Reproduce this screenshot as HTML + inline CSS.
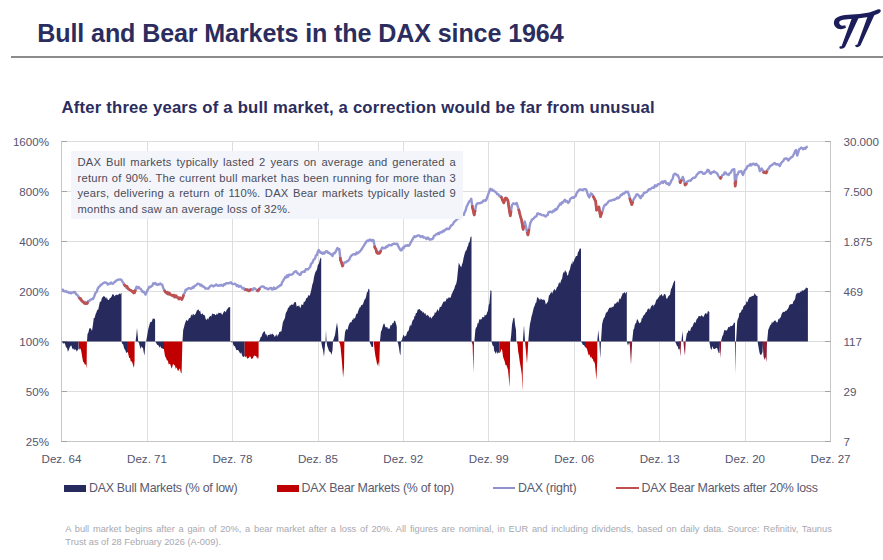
<!DOCTYPE html>
<html><head><meta charset="utf-8">
<style>
html,body{margin:0;padding:0;background:#fff;}
body{width:883px;height:560px;position:relative;overflow:hidden;font-family:"Liberation Sans",sans-serif;}
.title{position:absolute;left:37.3px;top:19.2px;font-size:25.1px;font-weight:bold;color:#2b2d5e;white-space:nowrap;letter-spacing:-0.12px;}
.rule{position:absolute;left:11px;top:56px;width:872px;height:1.7px;background:#8c8c8c;}
.sub{position:absolute;left:61.5px;top:97.5px;letter-spacing:0.2px;font-size:16.7px;font-weight:bold;color:#2b2d5e;white-space:nowrap;}
.box{position:absolute;left:71px;top:151px;width:392px;height:68px;background:rgba(243,245,250,0.97);}
.boxt{position:absolute;left:77.5px;width:378.5px;font-size:11.2px;letter-spacing:0.22px;line-height:15.4px;color:#4c4c58;text-align:justify;text-align-last:justify;white-space:nowrap;}
.l4{text-align-last:left;}
svg{position:absolute;left:0;top:0;}
.lg{position:absolute;top:481px;font-size:12.4px;color:#5a5a70;white-space:nowrap;letter-spacing:-0.27px;}
.foot{position:absolute;left:65.3px;top:523px;font-size:9.3px;line-height:13px;color:#a8a8b0;width:766.5px;text-align:justify;white-space:nowrap;}
</style></head><body>
<div class="title">Bull and Bear Markets in the DAX since 1964</div>
<div class="rule"></div>
<svg width="883" height="560" viewBox="0 0 883 560">
 <g fill="#1c1e5c">
  <path d="M846 27.8 C840 31.2 833 28 834 21.5 C835 16.5 842 15 852 14.6 C862 14.2 871 12.8 877.5 9.6 C880.5 8.4 881.8 10.8 880 12.4 C874 16.5 864 18 853 18.7 C845 19.2 839.5 19.6 839.2 22.4 C839 25 842 26.4 845.2 25.2 Z"/>
  <path d="M852 17.8 L859 17.1 L845.3 46.6 C843.6 49.2 839.6 49.6 839.4 47.4 C839.3 46.3 840.6 46.1 841.6 46.3 Z"/>
  <path d="M867.9 15.8 L874.6 14.5 L860.7 45 C859.1 47.6 855.4 47.8 855.2 45.8 C855.1 44.8 856.3 44.6 857.3 44.8 Z"/>
 </g>
</svg>
<div class="sub">After three years of a bull market, a correction would be far from unusual</div>
<svg width="883" height="560" viewBox="0 0 883 560">
 <g stroke="#dedede" stroke-width="1">
<line x1="62.0" y1="141.5" x2="830.5" y2="141.5"/>
<line x1="62.0" y1="191.5" x2="830.5" y2="191.5"/>
<line x1="62.0" y1="241.5" x2="830.5" y2="241.5"/>
<line x1="62.0" y1="291.5" x2="830.5" y2="291.5"/>
<line x1="62.0" y1="341.5" x2="830.5" y2="341.5"/>
<line x1="62.0" y1="391.5" x2="830.5" y2="391.5"/>
<line x1="147.5" y1="141.5" x2="147.5" y2="441.5"/>
<line x1="232.5" y1="141.5" x2="232.5" y2="441.5"/>
<line x1="318.5" y1="141.5" x2="318.5" y2="441.5"/>
<line x1="403.5" y1="141.5" x2="403.5" y2="441.5"/>
<line x1="488.5" y1="141.5" x2="488.5" y2="441.5"/>
<line x1="574.5" y1="141.5" x2="574.5" y2="441.5"/>
<line x1="659.5" y1="141.5" x2="659.5" y2="441.5"/>
<line x1="745.5" y1="141.5" x2="745.5" y2="441.5"/>
 </g>
 <g stroke="#c6c6c6" stroke-width="1">
 <line x1="61.5" y1="141" x2="61.5" y2="441.5"/>
 <line x1="830.5" y1="141" x2="830.5" y2="441.5"/>
 <line x1="61" y1="441.5" x2="831" y2="441.5"/>
 </g>
 <g stroke="#a4a4a4" stroke-width="1">
<line x1="61.5" y1="141.5" x2="67" y2="141.5"/>
<line x1="825" y1="141.5" x2="830.5" y2="141.5"/>
<line x1="61.5" y1="191.5" x2="67" y2="191.5"/>
<line x1="825" y1="191.5" x2="830.5" y2="191.5"/>
<line x1="61.5" y1="241.5" x2="67" y2="241.5"/>
<line x1="825" y1="241.5" x2="830.5" y2="241.5"/>
<line x1="61.5" y1="291.5" x2="67" y2="291.5"/>
<line x1="825" y1="291.5" x2="830.5" y2="291.5"/>
<line x1="61.5" y1="341.5" x2="67" y2="341.5"/>
<line x1="825" y1="341.5" x2="830.5" y2="341.5"/>
<line x1="61.5" y1="391.5" x2="67" y2="391.5"/>
<line x1="825" y1="391.5" x2="830.5" y2="391.5"/>
<line x1="61.5" y1="441.5" x2="67" y2="441.5"/>
<line x1="825" y1="441.5" x2="830.5" y2="441.5"/>
 </g>
 <path d="M62.0 341.5 L62.0 341.5 L63.0 343.8 L63.7 343.3 L64.5 342.9 L65.2 344.5 L66.1 347.5 L67.0 347.7 L67.9 351.8 L68.8 350.0 L69.6 347.4 L70.5 346.0 L71.4 345.4 L72.3 348.4 L73.2 349.6 L73.9 348.2 L74.6 350.2 L75.4 349.2 L76.1 349.7 L76.8 351.8 L77.7 350.1 L78.6 349.0 L78.6 341.5 Z M87.0 341.5 L87.0 341.0 L87.5 333.9 L88.4 332.6 L89.3 328.6 L90.2 327.9 L91.1 329.1 L92.0 331.0 L92.9 325.0 L93.8 317.9 L94.6 317.9 L95.5 314.6 L96.4 312.5 L97.3 309.7 L98.2 309.7 L99.1 305.4 L100.0 301.2 L100.9 302.0 L101.8 298.2 L102.5 297.2 L103.2 296.4 L104.0 296.1 L104.7 296.7 L105.4 297.3 L106.1 299.1 L106.8 297.1 L107.5 299.2 L108.2 300.0 L108.9 300.0 L109.8 298.3 L110.7 297.8 L111.6 296.4 L112.3 294.5 L113.0 294.3 L113.8 294.7 L114.5 296.4 L115.2 295.5 L115.9 295.0 L116.6 294.4 L117.3 295.3 L118.0 294.6 L118.8 294.6 L119.5 293.2 L120.2 294.6 L121.0 292.9 L121.5 293.0 L121.5 341.5 Z M121.5 341.5 L121.5 341.5 L122.3 344.1 L123.2 344.6 L124.0 348.0 L124.8 349.4 L125.5 350.4 L126.2 352.9 L127.0 352.5 L127.0 341.5 Z M135.6 341.5 L135.6 341.0 L136.3 335.4 L137.0 328.0 L138.2 341.0 L138.2 341.5 Z M138.0 341.5 L138.0 341.5 L139.0 343.2 L140.0 347.0 L140.8 349.2 L141.5 346.0 L142.2 347.4 L143.0 348.0 L143.8 352.8 L144.5 355.5 L145.5 341.5 L145.5 341.5 Z M146.2 341.5 L146.2 341.0 L147.0 336.6 L148.3 329.0 L149.5 324.5 L150.3 322.0 L151.1 322.3 L151.9 321.3 L152.9 318.3 L154.0 318.9 L154.6 318.5 L155.1 320.0 L155.1 341.5 Z M155.3 341.5 L155.3 341.5 L156.2 343.0 L157.1 344.7 L158.0 345.0 L158.8 345.9 L159.6 347.7 L160.4 346.1 L161.2 348.2 L162.0 348.0 L163.0 348.9 L164.0 349.0 L164.0 341.5 Z M182.5 341.5 L182.5 341.0 L183.2 330.0 L184.0 327.3 L184.8 324.0 L185.6 321.7 L186.4 319.7 L187.2 320.7 L188.0 320.7 L188.8 318.4 L189.6 318.1 L190.4 317.8 L191.2 314.3 L192.1 315.9 L192.9 314.1 L193.7 314.3 L194.5 315.3 L195.3 314.2 L196.1 312.5 L196.9 310.6 L197.7 309.9 L198.5 309.3 L199.3 311.6 L200.1 310.6 L200.9 314.1 L201.7 314.2 L202.5 313.3 L203.3 314.9 L204.1 314.7 L204.9 315.8 L205.7 318.9 L206.5 320.2 L207.3 318.0 L208.1 319.7 L208.9 317.4 L209.7 316.6 L210.5 315.7 L211.3 316.8 L212.1 313.2 L212.9 314.3 L213.7 314.1 L214.5 314.1 L215.3 315.2 L216.2 314.8 L217.0 313.3 L217.8 314.8 L218.6 312.4 L219.4 313.0 L220.2 313.3 L221.0 312.5 L221.8 314.4 L222.6 314.5 L223.4 312.5 L224.2 311.1 L225.0 311.2 L225.8 312.5 L226.6 309.8 L227.4 309.3 L228.2 307.4 L229.0 307.6 L229.8 306.9 L230.2 307.0 L230.2 341.5 Z M230.4 341.5 L230.4 341.5 L231.1 342.4 L231.8 342.1 L232.6 342.0 L233.3 344.7 L234.0 346.0 L234.8 346.3 L235.6 347.9 L236.4 350.2 L237.2 350.0 L238.0 350.0 L238.8 351.1 L239.6 352.5 L240.4 353.7 L241.2 352.2 L242.0 355.0 L242.9 356.9 L243.8 356.8 L244.7 356.0 L244.7 341.5 Z M258.6 341.5 L258.6 341.0 L259.6 340.5 L260.7 337.0 L261.5 336.8 L262.4 333.8 L263.2 332.5 L264.0 331.5 L264.8 331.3 L265.6 334.8 L266.4 333.9 L267.2 337.0 L267.9 334.9 L268.6 335.1 L269.4 334.5 L270.1 334.9 L270.8 333.4 L271.5 334.8 L272.3 333.4 L273.1 334.5 L273.9 334.9 L274.7 337.0 L275.5 335.9 L276.3 334.0 L277.1 336.8 L277.9 334.8 L278.6 334.6 L279.3 332.0 L280.0 331.8 L280.7 331.5 L281.4 331.4 L282.1 327.3 L282.8 322.8 L283.5 320.7 L284.2 319.6 L285.0 317.7 L285.7 313.2 L286.5 311.7 L287.3 310.4 L288.1 307.5 L288.9 307.8 L289.7 305.4 L290.5 305.6 L291.3 304.5 L292.1 304.6 L293.1 304.9 L294.2 302.5 L295.0 301.9 L295.9 302.2 L296.7 306.7 L297.5 305.7 L298.3 306.3 L299.1 305.3 L299.9 307.4 L300.7 307.8 L301.5 304.3 L302.3 304.7 L303.1 304.9 L303.9 301.4 L304.7 302.1 L305.5 300.6 L306.3 298.0 L307.1 298.2 L307.9 296.6 L308.7 294.7 L309.5 296.1 L310.3 293.9 L311.4 289.2 L312.4 284.3 L313.2 282.2 L314.0 277.2 L314.9 273.5 L315.7 271.4 L316.4 270.5 L317.1 269.1 L317.8 265.0 L318.9 263.7 L319.9 259.6 L320.8 257.5 L321.2 258.0 L321.2 341.5 Z M321.2 341.5 L321.2 341.5 L322.1 346.7 L323.0 350.0 L324.0 357.0 L325.0 345.0 L325.5 341.5 L325.5 341.5 Z M325.5 341.5 L325.5 341.0 L326.0 330.0 L326.5 341.0 L326.5 341.5 Z M326.5 341.5 L326.5 341.5 L327.2 345.8 L328.0 348.0 L329.0 351.0 L330.0 352.0 L330.8 352.4 L331.5 355.0 L332.5 350.0 L333.0 341.5 L333.0 341.5 Z M333.0 341.5 L333.0 341.0 L334.0 338.1 L335.0 335.0 L336.0 328.2 L337.0 322.5 L338.0 330.0 L338.5 341.0 L338.5 341.5 Z M344.2 341.5 L344.2 341.0 L345.0 332.5 L345.8 329.8 L346.7 328.9 L347.5 330.0 L348.3 326.6 L349.2 324.0 L350.0 322.5 L350.8 322.3 L351.5 322.3 L352.2 319.3 L353.0 320.2 L353.8 317.5 L354.5 318.7 L355.2 317.8 L356.0 314.7 L356.8 313.4 L357.5 313.8 L358.2 310.9 L359.0 309.0 L359.8 307.3 L360.5 307.2 L361.2 305.0 L362.2 305.3 L363.1 303.7 L364.0 301.0 L364.8 299.3 L365.5 298.4 L366.2 296.2 L367.0 292.0 L367.7 292.3 L368.5 288.6 L369.2 289.4 L369.5 290.0 L369.5 341.5 Z M369.5 341.5 L369.5 341.5 L370.2 343.6 L371.0 345.0 L371.7 347.1 L372.5 347.1 L373.2 346.4 L373.2 341.5 Z M380.0 341.5 L380.0 341.0 L380.9 331.8 L381.8 330.1 L382.7 326.4 L383.6 323.8 L384.5 323.7 L385.4 327.3 L386.3 327.3 L387.2 326.9 L388.0 329.1 L388.9 328.2 L389.6 329.0 L390.3 325.7 L391.1 324.6 L391.8 325.7 L392.5 322.9 L393.4 323.2 L394.3 320.4 L395.2 321.1 L396.4 325.0 L396.8 327.0 L396.8 341.5 Z M396.8 341.5 L396.8 341.5 L397.5 341.8 L398.3 344.3 L399.0 348.0 L399.8 353.4 L400.5 355.5 L401.0 341.5 L401.0 341.5 Z M401.0 341.5 L401.0 341.0 L402.0 339.7 L403.0 336.0 L403.7 334.4 L404.5 336.9 L405.2 335.4 L405.9 336.2 L406.6 333.9 L407.4 331.6 L408.1 331.3 L408.8 330.0 L409.5 326.7 L410.2 324.5 L411.0 326.5 L411.7 323.4 L412.4 321.0 L413.1 319.5 L413.8 319.5 L414.5 315.9 L415.2 316.1 L415.9 313.0 L416.8 313.1 L417.7 309.5 L418.6 309.5 L419.5 309.1 L420.4 309.9 L421.3 311.3 L422.0 310.8 L422.7 312.7 L423.4 312.0 L424.1 313.1 L424.8 314.0 L425.5 312.9 L426.2 316.3 L427.0 314.4 L427.7 315.2 L428.4 315.7 L429.1 316.4 L429.8 318.0 L430.6 316.5 L431.3 318.8 L432.0 317.5 L432.7 316.6 L433.4 315.8 L434.2 314.9 L434.9 312.0 L435.6 313.0 L436.3 312.1 L437.0 310.3 L437.7 308.9 L438.4 311.4 L439.1 309.5 L439.8 306.9 L440.5 306.9 L441.3 306.6 L442.0 304.7 L442.7 303.2 L443.4 301.8 L444.1 301.8 L444.9 301.3 L445.6 301.5 L446.3 299.6 L447.0 297.7 L447.7 299.2 L448.5 297.6 L449.2 297.3 L449.9 297.9 L450.8 297.2 L451.6 294.3 L452.5 292.5 L453.4 290.4 L454.3 288.8 L455.2 285.4 L456.1 284.3 L457.0 280.0 L457.9 271.0 L458.8 262.5 L459.6 264.6 L460.4 265.9 L461.2 267.5 L462.0 264.5 L462.8 262.3 L463.5 258.3 L464.2 255.6 L465.0 252.5 L465.8 250.4 L466.5 250.3 L467.2 247.3 L468.0 246.0 L468.8 242.5 L469.6 242.2 L470.4 237.4 L471.2 236.2 L471.5 237.0 L471.5 341.5 Z M471.5 341.5 L471.5 341.5 L472.6 345.0 L473.0 341.5 L473.0 341.5 Z M474.4 341.5 L474.4 341.0 L475.4 329.4 L476.1 327.5 L476.9 326.8 L477.6 322.9 L478.4 323.5 L479.2 319.8 L480.0 319.0 L480.8 319.7 L481.6 318.9 L482.4 316.9 L483.2 317.1 L484.0 317.6 L484.8 314.5 L485.6 315.6 L486.4 314.7 L487.2 312.2 L487.9 310.9 L488.7 305.1 L489.4 303.6 L490.5 290.0 L491.1 290.7 L491.5 291.0 L491.5 341.5 Z M491.5 341.5 L491.5 341.5 L492.2 344.0 L492.9 346.0 L493.6 346.1 L494.3 351.3 L495.0 351.9 L495.7 354.0 L496.4 351.1 L497.1 354.3 L497.9 352.2 L498.6 352.8 L499.3 353.0 L499.3 341.5 Z M510.5 341.5 L510.5 341.0 L511.2 335.0 L512.0 325.0 L513.2 318.6 L514.3 317.5 L515.1 325.1 L516.0 330.0 L516.3 341.0 L516.3 341.5 Z M522.9 341.5 L522.9 341.0 L524.0 325.0 L525.0 341.0 L525.0 341.5 Z M528.3 341.5 L528.3 341.0 L529.3 329.4 L530.0 323.7 L530.8 320.5 L531.5 316.5 L532.3 313.9 L533.1 310.5 L533.9 307.3 L534.7 305.8 L535.5 302.9 L536.3 302.4 L537.1 297.4 L537.9 297.2 L538.6 298.5 L539.3 299.1 L540.0 300.4 L540.8 298.2 L541.6 299.2 L542.5 300.1 L543.3 299.3 L544.1 300.4 L544.9 299.7 L545.7 304.5 L546.5 303.6 L547.3 302.6 L548.1 301.2 L548.9 295.6 L549.7 295.0 L550.5 293.3 L551.3 291.6 L552.1 293.7 L552.9 291.8 L553.6 290.2 L554.3 289.0 L555.0 289.6 L555.7 290.9 L556.4 288.6 L557.2 286.4 L557.9 286.7 L558.6 283.4 L559.3 282.0 L560.0 284.1 L560.7 281.4 L561.4 279.8 L562.1 278.4 L562.9 274.1 L563.6 272.0 L564.3 272.7 L565.0 270.0 L565.8 271.6 L566.5 272.1 L567.3 275.7 L568.1 275.0 L569.0 271.2 L569.9 269.4 L570.7 265.7 L571.4 262.9 L572.1 264.8 L572.9 260.4 L573.6 262.4 L574.3 259.6 L575.0 258.6 L575.7 256.5 L576.5 255.9 L577.2 256.0 L578.0 251.9 L578.7 251.4 L579.7 248.5 L580.7 248.6 L581.0 249.0 L581.0 341.5 Z M581.0 341.5 L581.0 341.5 L582.0 343.1 L583.0 345.0 L584.0 345.0 L585.0 347.0 L585.0 341.5 Z M597.3 341.5 L597.3 341.0 L598.3 330.0 L599.3 341.0 L599.3 341.5 Z M599.3 341.5 L599.3 341.5 L600.3 358.6 L601.0 341.5 L601.0 341.5 Z M601.0 341.5 L601.0 341.0 L602.1 324.3 L603.0 320.3 L603.9 318.1 L604.8 317.0 L605.7 313.5 L606.6 312.3 L607.5 311.8 L608.4 309.5 L609.3 308.0 L610.2 307.3 L611.1 308.3 L612.0 306.5 L612.9 307.3 L613.8 306.1 L614.6 303.6 L615.5 303.8 L616.4 302.9 L617.3 301.3 L618.2 302.9 L618.9 300.5 L619.6 298.1 L620.4 299.5 L621.1 297.3 L621.8 295.7 L622.7 293.3 L623.6 293.2 L624.5 292.1 L625.4 293.8 L626.3 292.0 L626.8 292.0 L626.8 341.5 Z M626.8 341.5 L626.8 341.5 L628.0 345.4 L628.8 343.1 L629.5 344.0 L630.0 341.5 L630.0 341.5 Z M632.2 341.5 L632.2 341.0 L633.4 329.6 L634.1 328.8 L634.8 325.1 L635.6 323.2 L636.3 322.5 L637.0 319.0 L637.9 320.0 L638.7 322.0 L639.6 323.4 L640.3 322.6 L641.0 322.1 L641.8 318.0 L642.5 318.3 L643.2 315.4 L643.9 315.5 L644.6 314.5 L645.4 312.9 L646.1 311.9 L646.8 311.8 L647.5 309.3 L648.2 308.9 L649.0 307.9 L649.7 309.9 L650.4 308.2 L651.1 306.5 L651.8 305.4 L652.5 304.4 L653.2 306.7 L653.9 304.6 L654.6 305.0 L655.3 303.2 L656.1 300.5 L656.8 299.3 L657.5 299.3 L658.2 297.6 L658.9 297.3 L659.7 295.2 L660.4 295.5 L661.1 294.8 L661.8 293.7 L662.5 296.3 L663.2 296.2 L663.9 294.3 L664.6 294.0 L665.5 294.4 L666.4 298.8 L667.3 298.4 L668.2 296.4 L669.1 295.4 L670.0 294.8 L670.9 289.5 L671.8 287.8 L672.7 285.0 L673.6 282.6 L674.5 280.5 L675.1 281.0 L675.1 341.5 Z M675.1 341.5 L675.1 341.5 L676.0 343.5 L677.0 346.0 L677.8 346.6 L678.5 349.5 L679.8 349.0 L680.5 341.5 L680.5 341.5 Z M681.5 341.5 L681.5 341.0 L682.5 331.0 L683.2 341.0 L683.2 341.5 Z M685.6 341.5 L685.6 341.0 L686.9 333.3 L687.7 332.8 L688.5 330.3 L689.3 330.8 L690.1 331.2 L691.1 327.4 L692.1 326.9 L692.9 325.5 L693.8 323.1 L694.6 322.1 L695.4 323.0 L696.2 320.5 L697.0 318.5 L697.8 318.2 L698.6 316.1 L699.4 316.0 L700.2 316.6 L701.0 316.0 L701.8 315.1 L702.5 316.3 L703.2 317.3 L703.9 316.1 L704.6 314.6 L705.4 313.3 L706.1 312.9 L707.0 314.5 L708.0 310.8 L708.9 311.8 L709.3 312.0 L709.3 341.5 Z M709.3 341.5 L709.3 341.5 L710.5 348.0 L711.5 350.0 L712.5 346.0 L713.2 348.4 L714.0 349.0 L715.0 349.1 L716.0 348.0 L717.0 347.7 L718.0 351.0 L718.8 353.3 L719.5 353.0 L720.0 341.5 L720.0 341.5 Z M721.1 341.5 L721.1 341.0 L722.2 336.5 L723.2 334.8 L724.3 330.0 L725.1 330.3 L726.0 330.4 L726.8 330.5 L727.6 329.0 L728.4 326.8 L729.2 327.5 L730.0 326.6 L730.8 325.8 L731.6 326.3 L732.4 325.4 L733.2 324.7 L734.0 322.6 L735.0 323.0 L735.0 341.5 Z M736.1 341.5 L736.1 341.0 L737.2 321.5 L737.9 319.0 L738.7 317.3 L739.4 312.9 L740.2 312.8 L741.0 312.1 L741.8 309.4 L742.6 309.7 L743.4 306.5 L744.2 305.5 L745.0 305.1 L745.8 304.3 L746.6 301.1 L747.4 302.4 L748.2 299.7 L749.0 297.9 L750.0 296.8 L750.7 297.0 L751.5 296.6 L752.2 295.8 L753.0 296.2 L753.9 295.2 L754.7 293.0 L755.5 294.7 L756.4 295.8 L757.5 296.0 L757.5 341.5 Z M757.6 341.5 L757.6 341.5 L759.0 350.0 L759.8 353.7 L760.5 355.0 L761.5 354.5 L762.5 352.0 L763.0 341.5 L763.0 341.5 Z M767.2 341.5 L767.2 341.0 L768.2 330.0 L768.9 328.2 L769.7 326.6 L770.4 324.7 L771.2 324.5 L772.0 321.4 L772.8 323.2 L773.6 321.5 L774.4 320.8 L775.2 320.3 L776.0 321.4 L776.8 322.6 L777.6 322.2 L778.4 318.7 L779.2 319.5 L780.0 317.2 L780.7 317.7 L781.5 314.3 L782.2 312.9 L783.0 311.9 L783.8 311.8 L784.6 312.1 L785.4 310.8 L786.2 311.1 L787.0 309.7 L787.8 309.0 L788.6 307.6 L789.4 305.1 L790.2 304.5 L791.0 304.1 L791.8 304.3 L792.6 303.9 L793.5 300.9 L794.3 300.6 L795.1 299.0 L795.8 295.2 L796.5 293.6 L797.2 293.6 L798.0 292.2 L798.8 293.2 L799.6 292.8 L800.4 291.5 L801.2 291.9 L802.0 290.1 L802.8 290.7 L803.6 290.4 L804.4 289.7 L805.2 289.2 L806.1 287.2 L806.9 288.2 L807.9 288.0 L807.9 341.5 Z" fill="#272a5c"/>
 <path d="M78.6 341.5 L78.6 341.5 L79.0 348.0 L79.7 349.7 L80.4 348.2 L81.3 351.4 L82.2 357.1 L83.1 361.7 L84.0 362.5 L85.0 365.1 L85.9 364.3 L86.6 368.8 L86.9 341.5 L86.9 341.5 Z M127.0 341.5 L127.0 352.5 L127.8 351.9 L128.5 355.1 L129.2 357.9 L130.0 358.0 L130.8 361.6 L131.5 361.3 L132.2 362.3 L133.0 365.0 L134.0 368.0 L134.6 360.0 L134.6 341.5 Z M163.9 341.5 L163.9 341.5 L164.0 350.0 L165.0 356.0 L166.0 358.0 L167.0 360.6 L167.8 360.5 L168.7 364.5 L169.5 363.8 L170.3 364.2 L171.1 367.3 L171.9 368.6 L172.7 364.9 L173.5 364.0 L174.2 364.9 L175.0 365.7 L175.8 369.0 L176.7 367.2 L177.5 370.2 L178.3 370.9 L179.1 369.2 L179.9 368.6 L180.8 372.6 L181.6 373.6 L182.4 341.5 L182.4 341.5 Z M244.7 341.5 L244.7 356.0 L245.5 357.3 L246.3 355.9 L247.2 359.1 L248.0 358.0 L248.8 358.1 L249.6 356.5 L250.4 356.6 L251.2 358.8 L252.0 359.0 L252.8 358.1 L253.5 356.7 L254.2 355.3 L255.0 356.0 L255.7 356.0 L256.4 356.5 L257.2 359.2 L257.9 356.4 L258.6 359.0 L258.6 341.5 Z M338.8 341.5 L338.8 341.5 L340.0 344.0 L340.6 347.5 L341.9 361.0 L343.1 377.5 L344.0 367.5 L344.4 341.5 L344.4 341.5 Z M373.8 341.5 L373.8 341.5 L374.5 349.6 L375.4 356.0 L376.4 360.4 L377.3 365.7 L378.3 362.0 L379.1 367.5 L380.0 341.5 L380.0 341.5 Z M472.5 341.5 L472.5 341.5 L473.5 373.0 L474.0 341.5 L474.0 341.5 Z M499.3 341.5 L499.3 353.0 L500.4 352.2 L501.4 348.7 L502.2 350.4 L503.0 356.8 L503.9 359.2 L504.7 361.5 L505.5 365.2 L506.4 364.9 L507.2 367.4 L508.0 370.0 L508.8 378.2 L509.6 387.3 L510.0 360.0 L510.0 341.5 Z M516.5 341.5 L516.5 341.5 L517.5 344.0 L518.2 351.8 L519.0 356.0 L519.7 361.5 L520.8 367.4 L521.8 374.4 L522.5 391.6 L522.9 360.0 L522.9 341.5 Z M525.0 341.5 L525.0 341.5 L526.0 352.1 L527.0 363.7 L528.3 341.5 L528.3 341.5 Z M585.0 341.5 L585.0 347.0 L585.8 347.6 L586.5 348.1 L587.2 349.8 L588.0 352.9 L588.8 355.4 L589.6 354.3 L590.4 358.1 L591.2 356.5 L592.0 358.6 L592.8 359.1 L593.5 361.5 L594.2 361.6 L595.0 364.3 L596.4 380.0 L597.3 360.0 L597.3 341.5 Z" fill="#c00000"/>
 <path d="M629.5 341.5 L629.5 341.5 L630.0 348.0 L631.0 364.9 L632.2 341.5 L632.2 341.5 Z M678.9 341.5 L678.9 341.5 L679.8 350.0 L680.4 356.7 L681.1 341.5 L681.1 341.5 Z M683.4 341.5 L683.4 341.5 L684.2 350.0 L685.0 355.8 L685.7 341.5 L685.7 341.5 Z M719.5 341.5 L719.5 341.5 L720.2 352.0 L720.7 358.5 L721.1 341.5 L721.1 341.5 Z M734.9 341.5 L734.9 341.5 L735.4 374.0 L735.9 341.5 L735.9 341.5 Z M762.5 341.5 L762.5 341.5 L763.5 356.0 L764.5 360.0 L765.5 357.0 L766.5 362.0 L767.0 341.5 L767.0 341.5 Z" fill="#8c1a34"/>
 <path d="M62.0 289.8 L63.0 289.8 L64.0 291.4 L65.0 291.5 L66.0 291.0 L67.0 292.1 L68.0 292.0 L69.0 293.0 L70.0 292.5 L71.0 293.3 L72.0 292.4 L73.0 292.6 L74.0 292.0 L75.0 291.9 L76.0 294.2 L77.0 294.6 L78.2 296.3 L79.5 298.2 L80.7 300.0 L81.8 300.9 L83.0 301.8 L84.2 301.9 L85.4 302.0 L86.6 303.6 L87.5 303.6 L88.4 301.0 L89.3 300.8 L90.2 300.0 L91.1 299.4 L92.0 299.0 L92.9 299.1 L94.2 296.5 L95.5 292.9 L96.7 291.8 L97.9 288.2 L99.1 286.6 L100.0 286.2 L100.9 284.7 L101.8 284.6 L102.7 283.5 L103.6 283.0 L104.7 282.4 L105.7 282.6 L106.8 282.9 L107.8 284.6 L108.9 283.9 L110.0 283.5 L111.1 282.6 L112.1 283.7 L113.2 283.6 L114.3 282.1 L115.3 281.6 L116.4 280.4 L117.4 280.1 L118.4 279.5 L119.5 279.6 L120.5 279.5 L121.4 279.8 L122.3 281.4 L123.2 282.7 L124.1 284.6 L125.0 285.7 L126.0 287.4 L127.0 288.0 L128.0 288.1 L129.0 289.0 L130.0 290.0 L130.9 290.6 L131.8 290.8 L132.8 291.2 L133.7 291.1 L134.6 292.6 L135.6 289.2 L136.6 286.7 L137.6 288.2 L138.6 286.9 L139.5 288.2 L140.5 288.7 L141.5 290.2 L142.5 291.9 L143.5 291.6 L144.5 292.9 L145.5 294.6 L146.5 292.1 L147.4 290.4 L148.4 288.6 L149.4 286.7 L150.4 287.1 L151.4 286.3 L152.3 285.8 L153.3 283.3 L154.3 283.8 L155.3 282.9 L156.3 284.5 L157.3 285.0 L158.2 284.2 L159.2 284.6 L160.2 283.4 L161.2 284.3 L162.2 284.7 L163.2 287.9 L164.1 290.0 L165.1 291.6 L166.1 292.9 L167.1 293.8 L168.1 292.7 L169.0 293.0 L170.0 293.6 L171.0 295.0 L172.0 295.5 L173.0 296.2 L174.0 297.1 L175.0 296.9 L176.0 297.0 L177.0 297.0 L178.0 298.1 L178.9 297.9 L179.9 298.6 L180.8 298.0 L181.8 299.5 L182.8 297.6 L183.8 294.0 L184.7 293.0 L185.7 289.6 L186.7 289.7 L187.7 288.7 L188.7 288.1 L189.6 288.1 L190.6 288.7 L191.6 288.6 L192.6 287.1 L193.6 287.7 L194.6 285.7 L195.6 285.7 L196.6 284.8 L197.6 283.6 L198.6 283.9 L199.6 284.2 L200.5 285.6 L201.5 284.8 L202.5 286.5 L203.5 286.5 L204.5 287.2 L205.4 288.7 L206.4 288.4 L207.4 288.5 L208.4 288.7 L209.4 287.2 L210.3 286.1 L211.3 285.5 L212.3 285.5 L213.3 286.5 L214.3 286.0 L215.3 285.1 L216.2 284.4 L217.2 285.5 L218.2 285.9 L219.2 285.3 L220.2 285.5 L221.2 284.8 L222.2 285.5 L223.1 285.9 L224.1 284.2 L225.1 284.6 L226.1 283.2 L227.1 283.4 L228.0 283.2 L229.0 283.4 L230.0 282.6 L231.0 282.3 L232.0 283.9 L232.9 284.1 L233.9 283.9 L234.9 283.6 L235.9 284.6 L236.9 286.1 L237.9 285.2 L238.9 286.8 L239.8 285.9 L240.8 286.4 L241.8 287.5 L242.8 288.6 L243.8 288.0 L244.7 290.0 L245.7 289.5 L246.7 289.7 L247.7 289.3 L248.7 289.6 L249.7 290.5 L250.7 289.8 L251.6 289.9 L252.6 290.0 L253.6 288.5 L254.6 288.3 L255.6 289.4 L256.5 289.6 L257.5 290.8 L258.6 291.0 L259.7 288.3 L260.7 287.2 L261.8 286.4 L262.9 286.5 L263.8 286.6 L264.7 288.0 L265.6 288.2 L266.6 288.2 L267.5 289.1 L268.4 289.2 L269.3 288.6 L270.2 288.2 L271.2 287.9 L272.1 289.6 L273.0 289.1 L273.9 287.6 L274.9 289.0 L275.8 288.6 L276.9 287.7 L277.9 287.0 L279.0 286.3 L280.0 285.3 L281.1 285.4 L282.2 282.2 L283.2 280.6 L284.3 278.6 L285.4 276.8 L286.3 277.5 L287.2 275.3 L288.1 276.8 L289.0 274.8 L289.9 274.7 L290.8 274.7 L291.9 274.6 L293.0 273.8 L294.0 272.2 L295.1 271.5 L296.2 271.3 L297.2 273.0 L298.3 273.6 L299.4 274.7 L300.5 274.8 L301.5 272.4 L302.6 272.0 L303.7 271.5 L304.8 271.7 L305.8 269.1 L306.9 269.3 L307.9 269.5 L309.0 268.2 L310.1 267.0 L311.2 263.7 L312.3 262.9 L313.6 259.7 L315.0 258.6 L315.9 255.5 L316.9 255.2 L317.8 251.6 L318.8 250.0 L319.7 251.5 L320.6 252.8 L321.6 252.5 L322.5 253.8 L323.4 252.6 L324.4 253.5 L325.3 252.1 L326.2 251.2 L327.2 251.4 L328.1 253.0 L329.1 252.7 L330.0 253.8 L331.2 254.4 L332.5 256.0 L333.5 253.3 L334.5 253.4 L335.5 252.1 L336.5 249.9 L337.5 248.0 L338.4 249.5 L339.3 249.0 L340.5 260.0 L341.5 262.0 L342.5 266.0 L344.0 263.0 L345.1 262.1 L346.2 262.3 L347.2 261.0 L348.3 260.8 L349.3 259.6 L350.3 257.1 L351.4 255.6 L352.4 254.9 L353.4 254.3 L354.5 254.1 L355.5 254.6 L356.5 252.5 L357.6 253.5 L358.6 252.4 L359.6 251.7 L360.6 250.6 L361.6 249.3 L362.6 247.7 L363.6 246.2 L364.6 244.4 L365.5 243.0 L366.4 241.6 L367.4 240.5 L368.4 241.1 L369.5 239.6 L370.5 239.8 L371.5 241.1 L372.6 239.9 L373.6 240.5 L374.8 247.4 L375.8 248.9 L376.7 252.4 L377.7 251.6 L378.8 252.9 L379.8 253.0 L381.1 249.8 L382.3 247.4 L383.3 248.3 L384.3 248.0 L385.3 248.1 L386.3 246.4 L387.3 246.8 L388.3 245.4 L389.3 244.9 L390.3 245.3 L391.3 245.3 L392.3 244.3 L393.3 244.1 L394.3 243.5 L395.2 243.8 L396.2 244.1 L397.2 243.7 L398.1 245.8 L399.1 247.6 L400.1 249.6 L401.0 250.5 L401.9 249.8 L402.9 247.5 L403.8 248.0 L404.7 246.2 L405.7 245.5 L406.7 245.8 L407.7 245.1 L408.7 245.7 L409.7 244.9 L410.7 242.5 L411.7 240.9 L412.7 239.1 L413.7 237.2 L414.7 236.2 L415.7 236.9 L416.7 236.1 L417.7 235.5 L418.7 235.5 L419.7 235.6 L420.7 237.0 L421.7 236.3 L422.6 236.1 L423.6 237.7 L424.6 237.4 L425.7 238.1 L426.7 239.1 L427.8 237.5 L428.8 238.6 L429.8 239.7 L430.9 239.3 L431.9 239.2 L433.0 238.5 L434.0 235.8 L435.0 235.5 L436.1 234.3 L437.1 234.3 L438.1 233.0 L439.0 234.1 L440.0 232.5 L441.0 232.2 L442.0 232.4 L443.0 230.7 L444.0 231.3 L445.0 230.0 L446.0 229.4 L447.0 228.5 L448.0 229.1 L449.0 229.0 L450.0 227.5 L451.0 225.4 L452.0 225.2 L453.0 224.0 L454.0 221.9 L455.0 221.2 L456.0 220.3 L456.9 219.1 L457.9 218.5 L458.9 217.9 L459.9 218.0 L460.8 217.4 L461.8 215.7 L462.8 214.6 L463.8 215.0 L464.7 212.1 L465.6 210.4 L466.6 206.8 L467.5 205.0 L468.4 203.0 L469.4 201.2 L470.3 201.0 L471.2 198.8 L472.5 207.5 L474.2 215.0 L475.2 210.1 L476.2 205.0 L477.2 203.5 L478.2 203.1 L479.2 203.3 L480.2 203.1 L481.2 202.5 L482.2 202.3 L483.2 200.6 L484.2 200.3 L485.2 200.9 L486.2 200.0 L487.3 197.0 L488.4 193.9 L489.4 191.1 L490.5 188.8 L491.4 190.3 L492.3 189.5 L493.2 190.7 L494.1 190.8 L495.0 191.7 L496.1 192.3 L497.1 194.1 L498.2 194.1 L499.3 196.3 L500.3 195.9 L501.4 197.3 L502.6 199.4 L503.8 202.9 L505.4 198.1 L506.6 199.8 L507.9 200.5 L509.1 207.5 L510.3 215.8 L511.9 205.3 L513.1 203.4 L514.3 203.7 L515.5 204.2 L516.7 202.9 L517.9 206.8 L519.1 211.0 L520.3 216.1 L521.5 219.8 L523.1 229.4 L524.7 221.4 L525.8 225.7 L526.8 231.3 L527.9 235.0 L529.1 228.9 L530.3 223.0 L531.3 220.9 L532.3 219.1 L533.4 218.9 L534.4 217.4 L535.4 216.7 L536.4 216.3 L537.4 213.5 L538.4 213.4 L539.5 214.2 L540.5 214.2 L541.6 215.0 L542.6 215.4 L543.6 215.0 L544.6 215.7 L545.6 216.6 L546.6 215.4 L547.6 215.1 L548.6 212.1 L549.6 211.8 L550.6 211.6 L551.5 212.2 L552.5 212.3 L553.4 210.5 L554.4 211.0 L555.4 209.0 L556.4 209.7 L557.3 208.6 L558.3 206.4 L559.3 205.3 L560.2 203.4 L561.2 204.4 L562.1 202.3 L563.0 202.5 L564.0 200.9 L564.9 199.7 L566.0 201.5 L567.0 201.1 L568.1 202.9 L569.2 201.9 L570.2 199.1 L571.3 198.1 L572.5 197.4 L573.6 197.9 L574.8 196.6 L575.8 195.9 L576.7 193.0 L577.7 191.7 L578.6 190.6 L579.6 189.4 L580.7 189.7 L581.8 189.7 L582.9 190.2 L584.0 189.1 L585.0 189.1 L586.1 189.4 L587.2 192.6 L588.2 195.6 L589.3 197.4 L590.9 193.4 L592.1 194.0 L593.3 196.6 L594.5 199.1 L595.7 201.4 L596.5 210.2 L597.7 209.2 L598.9 207.0 L600.5 216.7 L601.6 212.5 L602.6 211.0 L603.7 207.0 L604.7 205.0 L605.7 205.0 L606.6 203.8 L607.6 202.8 L608.6 201.4 L609.6 200.7 L610.5 200.6 L611.5 200.6 L612.4 200.0 L613.4 199.8 L614.4 199.8 L615.3 199.0 L616.3 198.7 L617.2 197.5 L618.2 198.2 L619.2 197.5 L620.1 196.3 L621.1 194.7 L622.0 194.9 L623.0 193.4 L624.0 193.7 L624.9 192.7 L625.9 191.7 L626.8 192.1 L627.8 191.8 L629.0 194.9 L630.2 199.8 L631.8 204.6 L633.0 200.6 L634.3 198.2 L635.4 196.7 L636.4 194.6 L637.5 194.2 L638.6 195.4 L639.6 196.9 L640.7 198.2 L641.7 195.8 L642.7 195.7 L643.7 193.1 L644.7 192.6 L645.8 192.5 L646.8 191.9 L647.9 190.7 L648.9 189.1 L650.0 189.4 L651.0 188.7 L652.0 187.8 L653.0 187.4 L654.0 187.8 L655.0 185.3 L655.9 186.3 L656.9 185.9 L657.9 184.2 L659.0 184.2 L660.0 183.8 L661.1 182.6 L662.1 181.5 L663.1 182.9 L664.1 181.4 L665.1 181.0 L666.1 183.0 L667.1 183.9 L668.1 183.3 L669.1 185.0 L670.3 183.2 L671.5 180.2 L672.6 179.0 L673.6 174.9 L674.7 173.7 L675.8 173.9 L676.8 175.3 L677.9 175.3 L679.1 178.2 L680.3 182.6 L681.5 180.7 L682.8 177.0 L684.0 180.5 L685.2 185.0 L686.3 184.4 L687.3 181.5 L688.4 181.0 L689.5 180.5 L690.5 180.9 L691.6 179.4 L692.7 178.2 L693.7 177.8 L694.8 177.8 L695.9 176.4 L696.9 174.7 L698.0 173.7 L699.0 172.3 L700.0 172.2 L701.0 171.8 L702.0 172.1 L703.2 173.9 L704.4 173.7 L705.5 172.8 L706.6 171.9 L707.7 169.7 L708.8 170.3 L709.8 173.0 L710.9 173.7 L712.0 172.1 L713.0 172.2 L714.1 171.3 L715.2 172.4 L716.2 172.6 L717.3 173.7 L718.4 176.1 L719.4 176.9 L720.5 178.3 L721.5 176.8 L722.5 174.9 L723.5 174.9 L724.6 172.4 L725.6 172.4 L726.6 174.3 L727.7 174.4 L728.7 174.9 L729.7 173.2 L730.8 172.6 L731.8 170.5 L733.0 169.4 L734.3 169.3 L735.2 186.1 L736.8 174.9 L737.8 174.4 L738.7 171.8 L740.0 171.6 L741.2 171.1 L743.0 174.9 L744.0 172.1 L744.9 169.9 L745.9 169.4 L746.8 167.6 L747.8 165.9 L748.7 165.5 L749.6 165.7 L750.5 163.9 L751.5 165.3 L752.4 164.3 L753.3 163.6 L754.2 164.3 L755.2 164.9 L756.1 163.7 L757.4 165.1 L758.6 166.1 L759.9 171.1 L760.8 170.2 L761.7 168.6 L762.7 170.1 L763.6 172.4 L764.9 171.6 L766.1 173.0 L767.4 169.8 L768.6 168.6 L769.9 166.3 L771.1 165.5 L772.0 165.1 L773.0 164.1 L773.9 163.7 L774.8 163.0 L776.0 164.5 L777.3 164.3 L778.5 164.4 L779.8 166.1 L781.0 163.3 L782.3 161.8 L783.3 161.1 L784.4 158.7 L785.4 158.7 L786.4 158.2 L787.5 159.6 L788.5 160.5 L789.5 158.7 L790.4 158.3 L791.3 157.1 L792.3 156.8 L793.2 155.3 L794.1 153.6 L795.1 151.0 L796.0 150.0 L797.2 155.6 L798.2 152.7 L799.1 149.3 L800.1 148.8 L801.2 147.7 L802.2 148.1 L803.2 149.3 L804.3 147.9 L805.3 148.7 L806.5 147.0 L807.8 146.8" fill="none" stroke="#9597d3" stroke-width="2.4" stroke-linejoin="round"/>
 <path d="M78.9 297.3 L79.5 298.2 L80.7 298.5 L81.8 300.9 L83.0 301.8 L84.2 303.2 L85.4 303.6 L86.6 303.6 L87.5 302.5 L88.4 301.8 M123.9 284.1 L125.0 285.7 L126.0 286.0 L127.0 286.3 L128.0 288.6 L129.0 289.3 L130.0 290.0 L130.9 290.2 L131.8 291.4 L132.8 291.4 L133.7 293.0 L134.6 292.6 L135.6 289.6 M164.4 289.9 L165.1 291.6 L166.1 292.7 L167.1 292.2 L168.1 294.2 L169.0 292.8 L170.0 294.5 L171.0 294.7 L172.0 295.5 L173.0 295.2 L174.0 295.1 L175.0 297.0 L176.0 295.6 L177.0 297.0 L178.0 297.6 L178.9 299.0 L179.9 297.7 L180.8 298.3 L181.8 299.5 L182.8 297.3 L183.8 294.6 M244.7 289.0 L245.7 289.5 L246.7 289.8 L247.7 290.3 L248.7 290.9 L249.7 290.5 L250.7 289.3 L251.6 289.5 M256.5 290.2 L257.5 290.8 L258.9 289.3 L260.2 288.6 M340.2 257.2 L340.5 260.0 L341.5 262.6 L342.5 266.0 L343.2 264.5 M374.5 245.7 L374.8 247.4 L375.8 248.9 L376.7 252.4 L377.7 253.5 L378.8 253.4 L379.8 253.0 L381.1 250.2 M472.2 205.3 L472.5 207.5 L474.2 215.0 L475.2 210.0 M500.6 196.5 L501.4 197.3 L502.6 200.6 L503.8 202.9 L505.4 198.1 L506.6 198.2 L507.9 200.5 L509.1 208.9 L510.3 215.8 L511.1 210.6 M518.5 209.0 L519.1 211.0 L520.3 215.9 L521.5 219.8 L523.1 229.4 L523.9 225.4 M527.1 231.6 L527.9 235.0 L529.1 229.0 M592.7 195.8 L593.3 196.6 L594.5 198.9 L595.7 201.4 L596.5 210.2 L597.7 209.1 L598.9 207.0 L600.5 216.7 L602.1 211.8 M629.6 197.8 L630.2 199.8 L631.8 204.6 L633.0 201.4 M679.7 180.8 L680.3 182.6 L681.5 179.8 M684.6 183.0 L685.2 185.0 L686.8 183.0 M719.7 177.2 L720.5 178.3 L721.5 176.6 M735.0 181.9 L735.2 186.1 L736.0 180.5 M763.1 171.5 L763.6 172.4 L764.9 172.6 L766.1 173.0 L767.4 170.8" fill="none" stroke="#c0504d" stroke-width="2.7" stroke-linejoin="round"/>
 <g font-family="Liberation Sans" font-size="11.6" fill="#55556e">
<text x="49" y="145.7" text-anchor="end">1600%</text>
<text x="49" y="195.7" text-anchor="end">800%</text>
<text x="49" y="245.7" text-anchor="end">400%</text>
<text x="49" y="295.7" text-anchor="end">200%</text>
<text x="49" y="345.7" text-anchor="end">100%</text>
<text x="49" y="395.7" text-anchor="end">50%</text>
<text x="49" y="445.7" text-anchor="end">25%</text>
<text x="843.5" y="145.7">30.000</text>
<text x="843.5" y="195.7">7.500</text>
<text x="843.5" y="245.7">1.875</text>
<text x="843.5" y="295.7">469</text>
<text x="843.5" y="345.7">117</text>
<text x="843.5" y="395.7">29</text>
<text x="843.5" y="445.7">7</text>
<text x="61.5" y="462.6" text-anchor="middle">Dez. 64</text>
<text x="147.0" y="462.6" text-anchor="middle">Dez. 71</text>
<text x="232.4" y="462.6" text-anchor="middle">Dez. 78</text>
<text x="317.9" y="462.6" text-anchor="middle">Dez. 85</text>
<text x="403.3" y="462.6" text-anchor="middle">Dez. 92</text>
<text x="488.8" y="462.6" text-anchor="middle">Dez. 99</text>
<text x="574.2" y="462.6" text-anchor="middle">Dez. 06</text>
<text x="659.7" y="462.6" text-anchor="middle">Dez. 13</text>
<text x="745.1" y="462.6" text-anchor="middle">Dez. 20</text>
<text x="830.6" y="462.6" text-anchor="middle">Dez. 27</text>
 </g>
</svg>
<div class="box"></div>
<div class="boxt" style="top:155.3px">DAX Bull markets typically lasted 2 years on average and generated a</div>
<div class="boxt" style="top:170.7px">return of 90%. The current bull market has been running for more than 3</div>
<div class="boxt" style="top:186.1px">years, delivering a return of 110%. DAX Bear markets typically lasted 9</div>
<div class="boxt l4" style="top:201.5px">months and saw an average loss of 32%.</div>
<div style="position:absolute;left:64px;top:485px;width:22px;height:6.5px;background:#272a5c"></div>
<div class="lg" style="left:89px">DAX Bull Markets (% of low)</div>
<div style="position:absolute;left:277px;top:485px;width:22px;height:6.5px;background:#c00000"></div>
<div class="lg" style="left:301.5px">DAX Bear Markets (% of top)</div>
<div style="position:absolute;left:493px;top:487px;width:22px;height:2px;background:#8f91cc"></div>
<div class="lg" style="left:518px">DAX (right)</div>
<div style="position:absolute;left:616px;top:487px;width:23px;height:2.4px;background:#c0504d"></div>
<div class="lg" style="left:641.5px">DAX Bear Markets after 20% loss</div>
<div class="foot" style="top:523px;text-align-last:justify">A bull market begins after a gain of 20%, a bear market after a loss of 20%. All figures are nominal, in EUR and including dividends, based on daily data. Source: Refinitiv, Taunus</div>
<div class="foot" style="top:536px">Trust as of 28 February 2026 (A-009).</div>
</body></html>
